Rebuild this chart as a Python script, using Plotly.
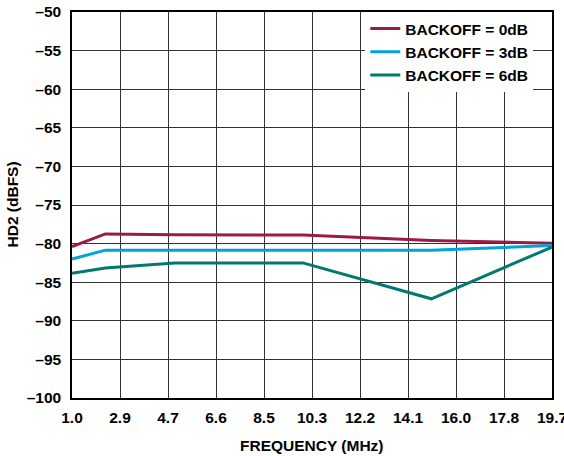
import plotly.graph_objects as go

freq = [1.0, 2.3, 5.0, 10.0, 15.0, 19.7]
hd2_0db = [-80.4, -78.75, -78.85, -78.9, -79.6, -79.95]
hd2_3db = [-82.0, -80.85, -80.85, -80.85, -80.85, -80.25]
hd2_6db = [-83.85, -83.15, -82.5, -82.5, -87.15, -80.45]

series_names = ["BACKOFF = 0dB", "BACKOFF = 3dB", "BACKOFF = 6dB"]
series_colors = ["#9B1B45", "#00A3DA", "#007A70"]

x_tick_labels = ["1.0", "2.9", "4.7", "6.6", "8.5", "10.3", "12.2", "14.1", "16.0", "17.8", "19.7"]
y_tick_vals = [-100, -95, -90, -85, -80, -75, -70, -65, -60, -55, -50]
y_tick_labels = ["\u2013" + str(abs(v)) for v in y_tick_vals]

x_title = "FREQUENCY (MHz)"
y_title = "HD2 (dBFS)"

x_min, x_max = 1.0, 19.7
x_tick_vals = [x_min + i * (x_max - x_min) / 10 for i in range(11)]

fig = go.Figure()
for name, ys, col in zip(series_names, [hd2_0db, hd2_3db, hd2_6db], series_colors):
    fig.add_trace(go.Scatter(x=freq, y=ys, mode="lines", name=name,
                             line=dict(color=col, width=3)))

font_family = "Liberation Sans, Arial, sans-serif"
fs = 15.5
# figure is slightly wider than the window so the last x label is cut at the
# window edge, as in the reference
fig.update_layout(
    width=580, height=456,
    margin=dict(l=72, r=28, t=12, b=58),
    paper_bgcolor="white", plot_bgcolor="white",
    font=dict(family=font_family, size=fs, color="black"),
    showlegend=True,
    legend=dict(x=0.611, y=1.0, xanchor="left", yanchor="top",
                bgcolor="white", borderwidth=0,
                font=dict(family=font_family, size=fs, color="black", weight="bold"),
                tracegroupgap=0),
    annotations=[
        dict(text="<b>%s</b>" % x_title, xref="paper", yref="paper", x=0.5, y=0,
             yshift=-37, xanchor="center", yanchor="top", showarrow=False,
             font=dict(size=fs)),
        dict(text="<b>%s</b>" % y_title, xref="paper", yref="paper", x=0, y=0.5,
             xshift=-60.5, xanchor="center", yanchor="middle", showarrow=False,
             textangle=-90, font=dict(size=fs)),
    ],
)
fig.update_xaxes(
    range=[x_min, x_max], tickvals=x_tick_vals, ticktext=["<b>%s</b>" % t for t in x_tick_labels],
    showgrid=True, gridcolor="#333333", gridwidth=1,
    showline=True, linecolor="black", linewidth=1.5, mirror=True,
    ticks="", zeroline=False, automargin=False, ticklabelstandoff=5,
    tickfont=dict(size=fs),
)
fig.update_yaxes(
    range=[-100, -50], tickvals=y_tick_vals, ticktext=["<b>%s</b>" % t for t in y_tick_labels],
    showgrid=True, gridcolor="#333333", gridwidth=1,
    showline=True, linecolor="black", linewidth=1.5, mirror=True,
    ticks="", zeroline=False, automargin=False, ticklabelstandoff=6,
    tickfont=dict(size=fs),
)

fig.write_html("out.html", config={"displayModeBar": False},
               post_script="document.body.style.margin='0';document.body.style.overflow='hidden';")
